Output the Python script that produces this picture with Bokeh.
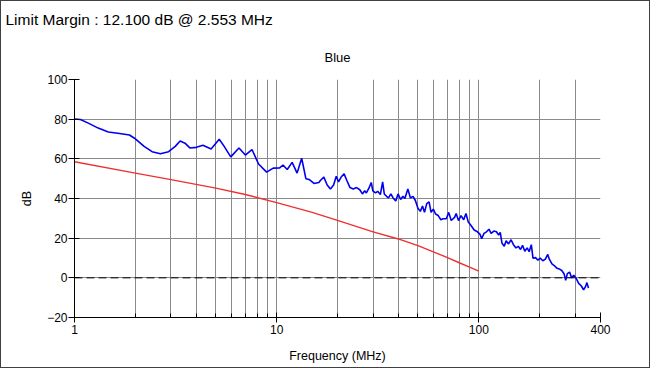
from bokeh.plotting import figure
from bokeh.models import FixedTicker, Span, Title
from bokeh.embed import file_html
from bokeh.resources import INLINE

# ---- data ----
blue_freq = [1.00, 1.07, 1.17, 1.31, 1.47, 1.67, 1.87, 1.98, 2.21, 2.42, 2.66, 2.92, 3.15, 3.33, 3.52,
             3.72, 4.01, 4.32, 4.74, 5.20, 5.50, 5.93, 6.51, 7.00, 7.55, 8.14, 8.92, 9.62, 10.35,
             10.75, 11.28, 11.93, 12.62, 13.30, 13.95, 14.47, 15.30, 16.18,
             16.49, 17.12, 17.78, 18.45, 19.13, 19.72, 20.23, 20.85, 21.56, 22.22, 23.06, 23.93,
             24.85, 25.78, 26.57, 27.26, 27.79, 28.61, 29.38, 29.91, 30.83, 31.62, 32.59, 33.44,
             34.08, 34.97, 35.76, 36.73, 37.68, 38.84, 39.85, 41.07, 42.14, 43.09, 44.57, 45.92,
             47.27, 48.56, 49.99, 51.35, 52.68, 53.87, 55.27, 56.77, 58.05, 59.57, 61.11, 62.98,
             64.91, 66.60, 69.10, 70.97, 73.06, 75.89, 77.27, 79.36, 81.69, 84.20, 86.40, 88.74,
             91.35, 94.88, 98.45, 101.5, 103.3, 106.1, 109.2, 112.2, 115.1, 118.7, 122.2, 125.4,
             127.7, 130.2, 133.6, 136.6, 140.3, 144.4, 148.4, 152.7, 156.8, 160.9, 164.6, 168.9,
             173.4, 177.4, 181.9, 185.4, 190.9, 196.1, 201.2, 207.4, 213.5, 219.3, 223.3, 230.1,
             236.1, 242.5, 249.7, 257.3, 264.0, 269.0, 274.1, 281.3, 287.6, 295.1, 303.1, 312.0,
             321.6, 330.0, 336.3, 342.7, 348.9]
blue_db = [80.1, 79.8, 78.0, 75.5, 73.5, 72.8, 72.0, 70.4, 66.3, 63.6, 62.6, 63.6, 66.3, 69.0, 67.9,
           65.5, 65.8, 66.8, 65.0, 69.9, 66.3, 61.0, 65.5, 61.9, 64.7, 57.4, 53.3, 55.3, 55.4,
           56.9, 54.6, 58.2, 52.8, 60.3, 50.0, 49.6, 47.6, 48.1,
           49.2, 50.8, 46.8, 44.8, 46.8, 51.2, 48.4, 50.8, 52.4, 49.2, 45.5, 44.8,
           45.5, 44.4, 42.3, 43.9, 42.8, 45.2, 48.1, 43.9, 42.8, 43.6, 42.0, 48.4,
           42.3, 41.1, 40.3, 42.3, 40.3, 38.7, 42.3, 39.5, 41.1, 40.0, 44.8, 40.3,
           41.1, 39.0, 35.1, 33.5, 36.2, 33.0, 37.4, 38.3, 33.0, 34.6, 32.2, 31.4,
           29.3, 29.8, 29.8, 33.0, 28.9, 30.5, 32.4, 28.9, 31.4, 29.3, 32.4, 28.1,
           26.5, 24.1, 23.2, 21.9, 19.7, 22.4, 23.2, 24.5, 22.4, 23.6, 23.2, 21.6,
           22.9, 17.5, 15.9, 18.7, 17.1, 19.2, 16.7, 15.1, 15.9, 14.3, 16.4, 13.4,
           15.1, 13.2, 16.7, 9.9, 10.2, 8.9, 9.9, 8.6, 9.4, 11.8, 9.4, 7.0,
           6.2, 5.0, 4.5, 3.7, 2.1, -1.2, 2.1, 2.9, 0.1, 1.3, -0.3, -2.8,
           -4.1, -6.0, -4.7, -2.4, -5.2]

limit_freq = [1, 2, 3, 5, 7, 10, 15, 20, 30, 40, 50, 60, 70, 80, 90, 100]
limit_db = [58.5, 52.8, 49.5, 45.2, 42.0, 37.9, 33.0, 29.0, 23.2, 19.6, 16.2, 13.0, 10.2, 7.6, 5.4, 3.4]

x_major = [1, 10, 100, 400]
x_major_labels = ["1", "10", "100", "400"]
x_minor = [2, 3, 4, 5, 6, 7, 8, 9, 20, 30, 40, 50, 60, 70, 80, 90, 200, 300]
y_ticks = [-20, 0, 20, 40, 60, 80, 100]

header_text = "Limit Margin : 12.100 dB @ 2.553 MHz"
title_text = "Blue"

FONT = "Liberation Sans"
GRID = "#8a8a8a"

p = figure(width=650, height=368, x_axis_type="log", x_range=(1, 400), y_range=(-20, 100),
           output_backend="svg", toolbar_location=None,
           min_border_left=73, min_border_right=51, min_border_top=78, min_border_bottom=52)
p.styles = {"border": "1px solid #404040"}
p.outline_line_color = None
p.background_fill_color = "white"
p.border_fill_color = "white"

# header (outermost) as the figure title
p.title.text = header_text
p.title.align = "left"
p.title.offset = -69
p.title.text_font = FONT
p.title.text_font_size = "15.5px"
p.title.text_font_style = "normal"
p.title.text_color = "black"
p.title.standoff = 10
# chart title just above the frame
p.add_layout(Title(text=title_text, align="center", text_font=FONT,
                   text_font_size="13px", text_font_style="normal", text_color="black",
                   standoff=30), "above")

# x axis
xt = FixedTicker(ticks=x_major, minor_ticks=x_minor)
p.xaxis.ticker = xt
p.xaxis.major_label_overrides = {v: s for v, s in zip(x_major, x_major_labels)}
p.xaxis.axis_label = "Frequency (MHz)"
p.xaxis.axis_label_text_font = FONT
p.xaxis.axis_label_text_font_size = "12.5px"
p.xaxis.axis_label_text_font_style = "normal"
p.xaxis.axis_label_text_color = "black"
p.xaxis.axis_label_standoff = 12
p.xaxis.major_label_text_font = FONT
p.xaxis.major_label_text_font_size = "12px"
p.xaxis.major_label_text_color = "black"
p.xaxis.major_label_standoff = 2
p.xaxis.major_tick_in = 5
p.xaxis.major_tick_out = 5
p.xaxis.minor_tick_in = 4
p.xaxis.minor_tick_out = 0
p.xaxis.axis_line_color = "black"
p.xaxis.major_tick_line_color = "black"
p.xaxis.minor_tick_line_color = "black"

# y axis
p.yaxis.ticker = FixedTicker(ticks=y_ticks)
p.yaxis.axis_label = "dB"
p.yaxis.axis_label_text_font = FONT
p.yaxis.axis_label_text_font_size = "12.5px"
p.yaxis.axis_label_text_font_style = "normal"
p.yaxis.axis_label_text_color = "black"
p.yaxis.axis_label_standoff = 10
p.yaxis.major_label_text_font = FONT
p.yaxis.major_label_text_font_size = "12px"
p.yaxis.major_label_text_color = "black"
p.yaxis.major_label_standoff = 1
p.yaxis.major_tick_in = 5
p.yaxis.major_tick_out = 6
p.yaxis.minor_tick_line_color = None
p.yaxis.axis_line_color = "black"
p.yaxis.major_tick_line_color = "black"

# grids
p.xgrid.ticker = xt
p.xgrid.grid_line_color = GRID
p.xgrid.minor_grid_line_color = GRID
p.ygrid.ticker = FixedTicker(ticks=y_ticks)
p.ygrid.grid_line_color = GRID

# zero dashed line
p.add_layout(Span(location=0, dimension="width", line_color="black", line_width=1,
                  line_dash="8 4"))

# series
p.line(limit_freq, limit_db, line_color="#f03030", line_width=1.4)
p.line(blue_freq, blue_db, line_color="#0000ee", line_width=1.6)

open("out.html", "w").write(file_html(p, INLINE))
